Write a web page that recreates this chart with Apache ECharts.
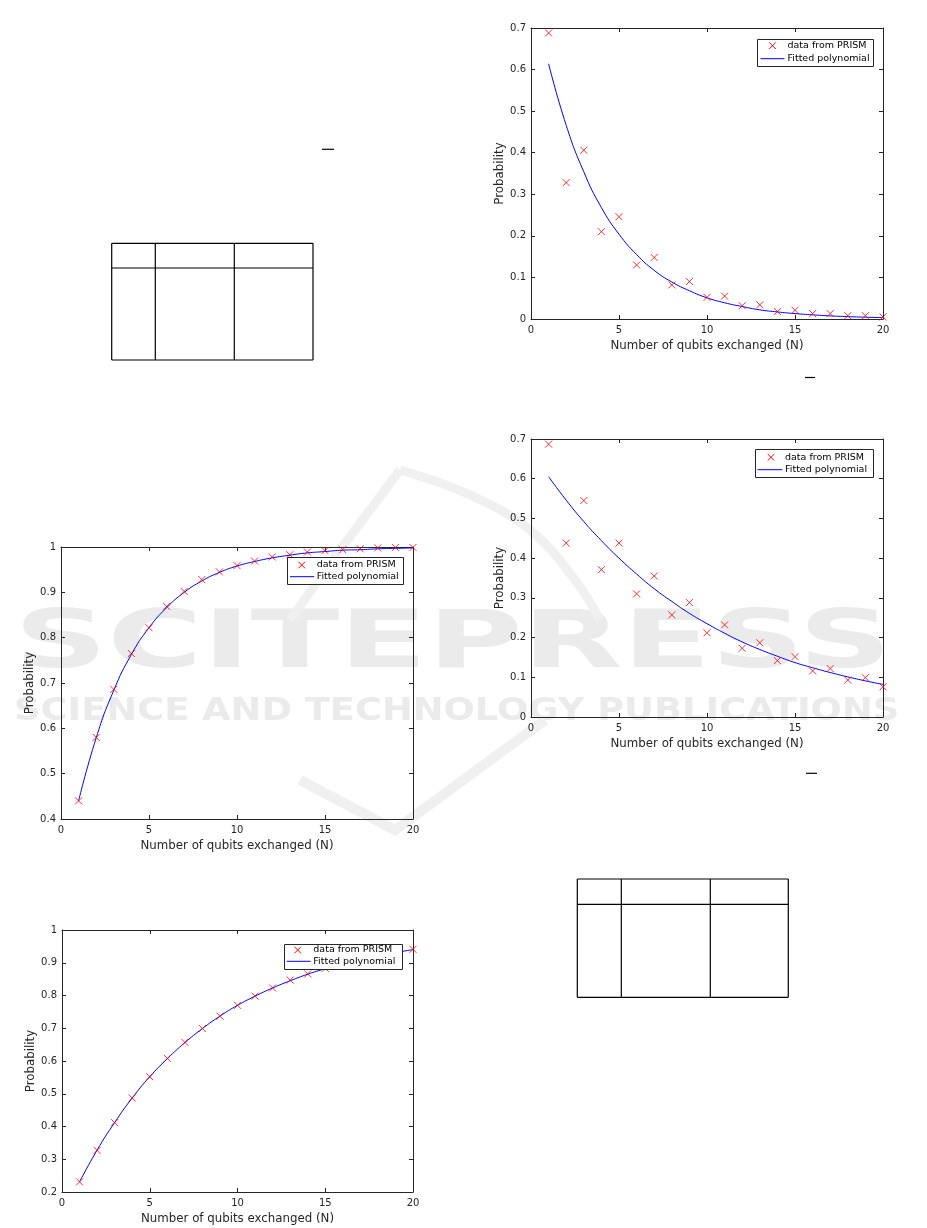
<!DOCTYPE html>
<html>
<head>
<meta charset="utf-8">
<script src="https://cdn.jsdelivr.net/npm/echarts@6/dist/echarts.min.js"></script>
<style>
html,body{margin:0;padding:0;background:#fff;}
#c{width:927px;height:1228px;}
</style>
</head>
<body>
<div id="c"></div>
<script>
// ---------- data ----------
const qubits = [1,2,3,4,5,6,7,8,9,10,11,12,13,14,15,16,17,18,19,20];

// top-right plot
const prismA = [0.688,0.328,0.406,0.210,0.246,0.130,0.148,0.082,0.090,0.052,0.055,0.032,0.034,0.018,0.021,0.013,0.013,0.008,0.008,0.005];
const fitA   = [0.614,0.466,0.354,0.268,0.204,0.155,0.117,0.089,0.068,0.051,0.039,0.030,0.022,0.017,0.013,0.010,0.0075,0.0057,0.0043,0.0033];
// middle-right plot
const prismB = [0.687,0.438,0.545,0.371,0.438,0.310,0.355,0.257,0.288,0.212,0.232,0.173,0.187,0.142,0.152,0.116,0.122,0.093,0.099,0.076];
const fitB   = [0.605,0.546,0.492,0.444,0.400,0.360,0.323,0.291,0.261,0.235,0.211,0.189,0.170,0.153,0.137,0.124,0.112,0.101,0.091,0.082];
// middle-left plot
const prismC = [0.440,0.580,0.686,0.765,0.822,0.869,0.902,0.928,0.945,0.959,0.969,0.978,0.983,0.989,0.992,0.994,0.996,0.998,0.999,0.999];
const fitC   = [0.440,0.579,0.684,0.763,0.822,0.866,0.900,0.925,0.944,0.958,0.968,0.976,0.982,0.987,0.990,0.993,0.994,0.996,0.997,0.998];
// bottom-left plot
const prismD = [0.231,0.327,0.412,0.487,0.552,0.608,0.657,0.699,0.737,0.770,0.798,0.823,0.847,0.866,0.883,0.898,0.911,0.922,0.932,0.941];
const fitD   = [0.231,0.328,0.412,0.487,0.552,0.607,0.656,0.699,0.737,0.770,0.798,0.823,0.845,0.865,0.882,0.897,0.910,0.921,0.931,0.940];

const xTitle = 'Number of qubits exchanged (N)';
const yTitle = 'Probability';
const legendNames = ['data from PRISM', 'Fitted polynomial'];

// y-axis ranges for each plot: [min, max]
const yRanges = [[0, 0.7], [0, 0.7], [0.4, 1], [0.2, 1]];
const xRange = [0, 20];

// ---------- layout ----------
const panels = [
  {grid:{left:531, top:28, width:352, height:291}, prism:prismA, fit:fitA,
   legend:{box:[757,39,116,27], mk:[772.5,45.7], ln:[760.5,784.5,58.7], tx:787.5}},
  {grid:{left:531, top:439, width:352, height:278}, prism:prismB, fit:fitB,
   legend:{box:[755,449,118,28], mk:[771,457.3], ln:[757.5,782.3,469.7], tx:785}},
  {grid:{left:61, top:547, width:352, height:272}, prism:prismC, fit:fitC,
   legend:{box:[287,557,116,27], mk:[301.7,565], ln:[290,314.3,576.7], tx:316.7}},
  {grid:{left:62, top:930, width:351, height:262}, prism:prismD, fit:fitD,
   legend:{box:[284,944,118,25], mk:[297.7,950], ln:[286.7,310.7,961.3], tx:313.3}}
];

const FONT = 'DejaVu Sans';
const AX = '#262626';
const xPath = 'path://M0,0L10,10M10,0L0,10';

const grids = [], xAxes = [], yAxes = [], series = [], graphics = [];

panels.forEach((p, i) => {
  grids.push(Object.assign({containLabel:false}, p.grid));
  const tick = {show:true, inside:true, length:4, lineStyle:{color:AX, width:1}};
  const line = {show:true, onZero:false, lineStyle:{color:AX, width:1}};
  const lab = {color:AX, fontFamily:FONT, fontSize:10};
  xAxes.push({gridIndex:i, type:'value', position:'bottom', min:xRange[0], max:xRange[1], interval:5,
    axisLine:line, axisTick:tick, splitLine:{show:false}, axisLabel:Object.assign({margin:6}, lab),
    name:xTitle, nameLocation:'middle', nameGap:21,
    nameTextStyle:{color:AX, fontFamily:FONT, fontSize:11.8}});
  xAxes.push({gridIndex:i, type:'value', position:'top', min:xRange[0], max:xRange[1], interval:5,
    axisLine:line, axisTick:tick, splitLine:{show:false}, axisLabel:{show:false}});
  yAxes.push({gridIndex:i, type:'value', position:'left', min:yRanges[i][0], max:yRanges[i][1], interval:0.1,
    axisLine:line, axisTick:tick, splitLine:{show:false}, axisLabel:Object.assign({margin:5}, lab),
    name:yTitle, nameLocation:'middle', nameGap:25,
    nameTextStyle:{color:AX, fontFamily:FONT, fontSize:11.8}});
  yAxes.push({gridIndex:i, type:'value', position:'right', min:yRanges[i][0], max:yRanges[i][1], interval:0.1,
    axisLine:line, axisTick:tick, splitLine:{show:false}, axisLabel:{show:false}});

  series.push({type:'line', name:legendNames[1], xAxisIndex:2*i, yAxisIndex:2*i,
    data:qubits.map((q,k)=>[q, p.fit[k]]), smooth:true, showSymbol:false,
    lineStyle:{color:'#0000ff', width:1}, z:3, silent:true});
  series.push({type:'scatter', name:legendNames[0], xAxisIndex:2*i, yAxisIndex:2*i,
    data:qubits.map((q,k)=>[q, p.prism[k]]), symbol:xPath, symbolSize:7,
    itemStyle:{color:'rgba(0,0,0,0)', borderColor:'#ff0000', borderWidth:1}, z:4, silent:true});

  // legend box
  const L = p.legend;
  const [bx,by,bw,bh] = L.box;
  graphics.push({type:'rect', z:100, shape:{x:bx+0.5, y:by+0.5, width:bw, height:bh},
    style:{fill:'#fff', stroke:AX, lineWidth:1}});
  const s = 3.3;
  graphics.push({type:'line', z:101, shape:{x1:L.mk[0]-s, y1:L.mk[1]-s, x2:L.mk[0]+s, y2:L.mk[1]+s}, style:{stroke:'#ff0000', lineWidth:1}});
  graphics.push({type:'line', z:101, shape:{x1:L.mk[0]+s, y1:L.mk[1]-s, x2:L.mk[0]-s, y2:L.mk[1]+s}, style:{stroke:'#ff0000', lineWidth:1}});
  graphics.push({type:'line', z:101, shape:{x1:L.ln[0], y1:L.ln[2], x2:L.ln[1], y2:L.ln[2]}, style:{stroke:'#0000ff', lineWidth:1}});
  graphics.push({type:'text', z:101, x:L.tx, y:L.mk[1], style:{text:legendNames[0], fill:'#000', font:'9.5px "DejaVu Sans"', verticalAlign:'middle', align:'left'}});
  graphics.push({type:'text', z:101, x:L.tx, y:L.ln[2], style:{text:legendNames[1], fill:'#000', font:'9.5px "DejaVu Sans"', verticalAlign:'middle', align:'left'}});
});

// tables (empty ruled tables)
function table(xs, ys) {
  const x0 = xs[0], x1 = xs[xs.length-1], y0 = ys[0], y1 = ys[ys.length-1];
  ys.forEach(y => graphics.push({type:'line', z:50, shape:{x1:x0, y1:y, x2:x1, y2:y}, style:{stroke:'#000', lineWidth:1.2}}));
  xs.forEach(x => graphics.push({type:'line', z:50, shape:{x1:x, y1:y0, x2:x, y2:y1}, style:{stroke:'#000', lineWidth:1.2}}));
}
table([111.7,155.3,234.3,313],[243.3,268,360]);
table([577.3,621.3,710.3,788.3],[879,904.3,997.3]);

// small dashes
[[322,334,149.3],[805,815,377.5],[806,817,773.3]].forEach(d =>
  graphics.push({type:'line', z:50, shape:{x1:d[0], y1:d[2], x2:d[1], y2:d[2]}, style:{stroke:'#000', lineWidth:1.2}}));

// watermark
const WM = '#ebebeb';
graphics.push({type:'text', z:-10, x:14, y:646, scaleX:1.62, style:{text:'SCITEPRESS', fill:WM, font:'bold 80px "DejaVu Sans"', verticalAlign:'middle', align:'left'}});
graphics.push({type:'text', z:-10, x:14, y:712, scaleX:1.15, style:{text:'SCIENCE AND TECHNOLOGY PUBLICATIONS', fill:WM, font:'bold 32px "DejaVu Sans"', verticalAlign:'middle', align:'left'}});
graphics.push({type:'polyline', z:-10, shape:{points:[[400,470],[340,550],[290,620]]}, style:{stroke:'#f0f0f0', lineWidth:9, fill:null}});
graphics.push({type:'polyline', z:-10, shape:{points:[[400,470],[470,495],[530,530],[575,580],[600,620]], smooth:0.4}, style:{stroke:'#f0f0f0', lineWidth:9, fill:null}});
graphics.push({type:'polyline', z:-10, shape:{points:[[300,780],[395,830],[545,720]]}, style:{stroke:'#f0f0f0', lineWidth:10, fill:null}});

const chart = echarts.init(document.getElementById('c'), null, {renderer:'canvas'});
chart.setOption({
  animation:false,
  backgroundColor:'#fff',
  grid:grids, xAxis:xAxes, yAxis:yAxes, series:series,
  graphic:{elements:graphics}
});
</script>
</body>
</html>
